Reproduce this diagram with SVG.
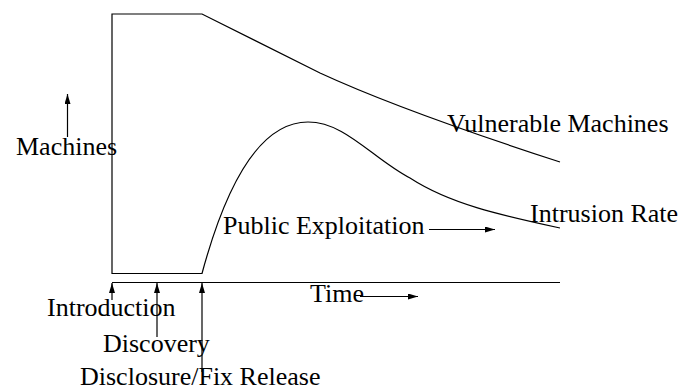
<svg xmlns="http://www.w3.org/2000/svg" width="694" height="391" viewBox="0 0 694 391">
  <defs>
    <marker id="ah" viewBox="0 0 10 6" refX="10" refY="3" markerWidth="10" markerHeight="6" markerUnits="userSpaceOnUse" orient="auto">
      <path d="M0,0 L10,3 L0,6 Z" fill="#000"/>
    </marker>
  </defs>
  <style>
    .ln { fill: none; stroke: #000; stroke-width: 1.2; }
    .ar { fill: none; stroke: #000; stroke-width: 1.2; marker-end: url(#ah); }
    .lb { font-family: "Liberation Serif", "Times New Roman", serif; font-size: 26px; fill: #000; }
  </style>
  <rect width="694" height="391" fill="#fff"/>

  <!-- curves and axis -->
  <g id="curves">
    <path class="ln" d="M112,274 L112,14 L202,14 L320,73 Q400,110 560,162"/>
    <path class="ln" d="M112,273.5 L202,273.5 C230,170 265,122 308,122 C345,122 372,158 410,178 C450,204 500,215 560,228"/>
    <path class="ln" d="M112,282.5 L560,282.5"/>
  </g>

  <!-- pointer arrows -->
  <g id="connectors">
    <path class="ar" d="M67.5,137 L67.5,94"/>
    <path class="ar" d="M112,300 L112,283"/>
    <path class="ar" d="M157,337 L157,283"/>
    <path class="ar" d="M202,372 L202,283"/>
    <path class="ar" d="M429,229.5 L495,229.5"/>
    <path class="ar" d="M360,296.5 L418,296.5"/>
  </g>

  <g id="machines"><text class="lb" x="16" y="155">Machines</text></g>
  <g id="vulnerable"><text class="lb" x="447" y="132">Vulnerable Machines</text></g>
  <g id="intrusion"><text class="lb" x="530" y="222">Intrusion Rate</text></g>
  <g id="public"><text class="lb" x="223" y="234">Public Exploitation</text></g>
  <g id="time"><text class="lb" x="310" y="302">Time</text></g>
  <g id="introduction"><text class="lb" x="47" y="316">Introduction</text></g>
  <g id="discovery"><text class="lb" x="103" y="352">Discovery</text></g>
  <g id="disclosure"><text class="lb" x="80" y="385">Disclosure/Fix Release</text></g>
</svg>
